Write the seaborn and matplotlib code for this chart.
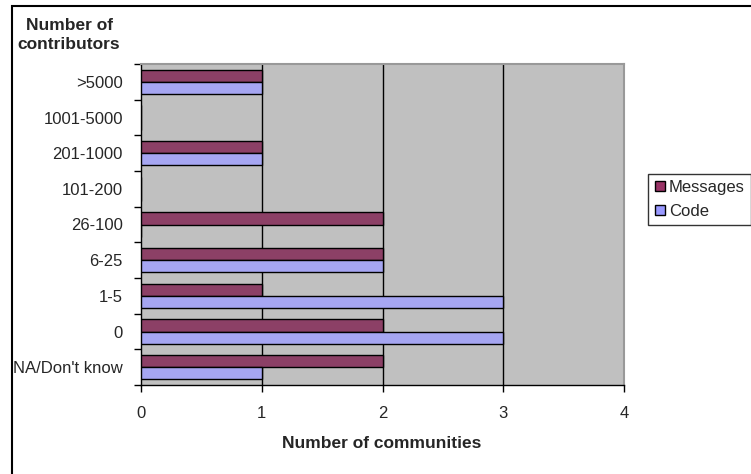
import matplotlib
matplotlib.use("Agg")
import matplotlib.pyplot as plt
from matplotlib.patches import Rectangle
from matplotlib.lines import Line2D
import pandas as pd
import seaborn as sns

# Contributor-count bands, top to bottom
categories = [">5000", "1001-5000", "201-1000", "101-200", "26-100",
              "6-25", "1-5", "0", "NA/Don't know"]
messages = [1, 0, 1, 0, 2, 2, 1, 2, 2]
code = [1, 0, 1, 0, 0, 2, 3, 3, 1]
series = ["Messages", "Code"]
colors = {"Messages": "#993366", "Code": "#9999FF"}
x_ticks = [0, 1, 2, 3, 4]

df = pd.DataFrame({
    "band": categories * 2,
    "series": ["Messages"] * len(categories) + ["Code"] * len(categories),
    "count": messages + code,
})

sns.set_theme(style="white")
plt.rcParams["font.family"] = ["Liberation Sans", "DejaVu Sans"]

W, H = 751, 474
fig = plt.figure(figsize=(W / 100, H / 100), dpi=100)
fig.patch.set_facecolor("white")

def px_axes(l, t, r, b):
    return [l / W, 1 - b / H, (r - l) / W, (b - t) / H]

ax = fig.add_axes(px_axes(141, 64, 624, 385))
ax.set_facecolor("#C0C0C0")

sns.barplot(data=df, y="band", x="count", hue="series", order=categories,
            hue_order=series, palette=colors, orient="h", width=0.68,
            edgecolor="black", linewidth=1.0, ax=ax, legend=False, zorder=3)

ax.set_xlim(0, 4)
ax.set_ylim(len(categories) - 0.5, -0.5)
ax.set_xticks(x_ticks)
ax.set_xticklabels([str(v) for v in x_ticks], fontsize=12)

# category labels centred on each band, tick marks on the band boundaries
ax.set_yticks(range(len(categories)))
ax.set_yticklabels(categories, fontsize=12)
ax.tick_params(axis="y", which="major", length=0, pad=13)
ax.set_yticks([i - 0.5 for i in range(len(categories) + 1)], minor=True)
ax.tick_params(axis="y", which="minor", length=5, width=1, color="black", direction="out", left=True)
ax.tick_params(axis="x", which="major", length=5, width=1, color="black", direction="out",
               bottom=True, pad=10)

ax.set_xlabel("")
ax.set_ylabel("")
for v in x_ticks[1:-1]:
    ax.axvline(v, color="black", linewidth=1.0, zorder=2)

for side in ("left", "bottom"):
    ax.spines[side].set_color("black")
    ax.spines[side].set_linewidth(1.0)
for side in ("top", "right"):
    ax.spines[side].set_color("#999999")
    ax.spines[side].set_linewidth(1.5)

fig.text(382 / W, 1 - 443 / H, "Number of communities", ha="center", va="center",
         fontsize=12.5, fontweight="bold")
fig.text(69 / W, 1 - 35 / H, "Number of\ncontributors", ha="center", va="center",
         fontsize=12.5, fontweight="bold", linespacing=1.3)

handles = [Line2D([], [], marker="s", linestyle="none", markersize=7.5,
                  markerfacecolor=colors[s], markeredgecolor="black", markeredgewidth=1.0)
           for s in series]
leg = fig.legend(handles, series, loc="upper left",
                 bbox_to_anchor=(648 / W, 1 - 174 / H), frameon=True, fancybox=False,
                 fontsize=12, handlelength=0.7, handletextpad=0.2, borderpad=0.35,
                 labelspacing=0.55, borderaxespad=0)
leg.get_frame().set_edgecolor("black")
leg.get_frame().set_linewidth(1.0)

# chart-area border
fig.patches.append(Rectangle((12 / W, -0.1), 1.2, 1 - 6 / H + 0.1, transform=fig.transFigure,
                             fill=False, edgecolor="black", linewidth=1.5))

fig.savefig("out.png", dpi=100)
